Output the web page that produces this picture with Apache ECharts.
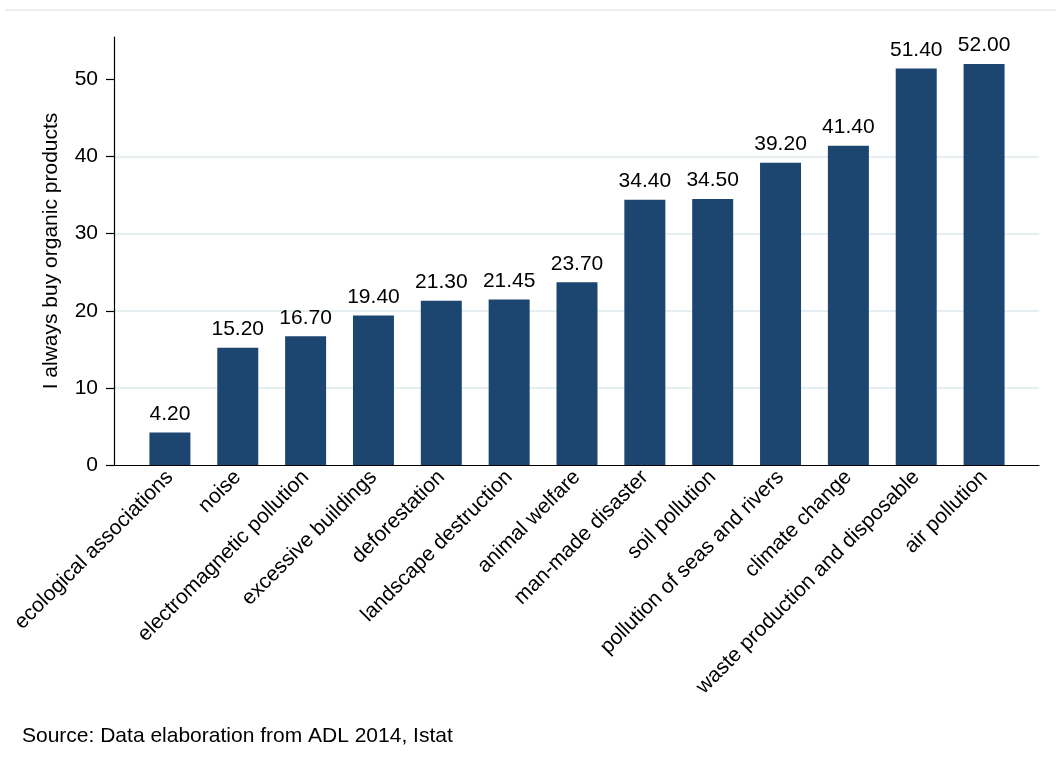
<!DOCTYPE html>
<html>
<head>
<meta charset="utf-8">
<script src="https://cdn.jsdelivr.net/npm/echarts@6/dist/echarts.min.js"></script>
<style>
html,body{margin:0;padding:0;background:#fff;}
#c{width:1056px;height:769px;}
</style>
</head>
<body>
<div id="c"></div>
<script>
const categories = ["ecological associations","noise","electromagnetic pollution","excessive buildings","deforestation","landscape destruction","animal welfare","man-made disaster","soil pollution","pollution of seas and rivers","climate change","waste production and disposable","air pollution"];
const values = [4.20,15.20,16.70,19.40,21.30,21.45,23.70,34.40,34.50,39.20,41.40,51.40,52.00];
const yTicks = [0,10,20,30,40,50];
const yName = "I always buy organic products";
const sourceText = "Source: Data elaboration from ADL 2014, Istat";

const FONT = '"Liberation Sans", Arial, sans-serif';
const FS = 21;
const YMAX = 55.5;

const chart = echarts.init(document.getElementById('c'), null, {renderer:'canvas'});
chart.setOption({
  animation:false,
  backgroundColor:'#ffffff',
  textStyle:{fontFamily:FONT},
  grid:[
    {left:114, right:17, top:37, bottom:304, containLabel:false},
    {left:136, right:38, top:37, bottom:304, containLabel:false}
  ],
  xAxis:[
    {gridIndex:0, type:'value', min:0, max:1, axisLine:{show:true, onZero:false, lineStyle:{color:'#000', width:1.2}},
     axisTick:{show:false}, axisLabel:{show:false}, splitLine:{show:false}},
    {gridIndex:1, type:'category', data:categories, axisLine:{show:false}, axisTick:{show:false},
     axisLabel:{interval:0, rotate:45, margin:9, color:'#000', fontSize:FS, fontFamily:FONT}, splitLine:{show:false}}
  ],
  yAxis:[
    {gridIndex:0, type:'value', min:0, max:YMAX, interval:10,
     name:yName, nameLocation:'middle', nameGap:52, nameTextStyle:{color:'#000', fontSize:FS, fontFamily:FONT},
     axisLine:{show:true, onZero:false, lineStyle:{color:'#000', width:1.2}},
     axisTick:{show:true, length:8, customValues:yTicks, lineStyle:{color:'#000', width:1.2}},
     axisLabel:{customValues:yTicks, margin:16, color:'#000', fontSize:FS, fontFamily:FONT},
     splitLine:{show:true, showMinLine:false, showMaxLine:false, lineStyle:{color:'#e5eef1', width:2}}},
    {gridIndex:1, type:'value', min:0, max:YMAX, show:false}
  ],
  series:[{
    type:'bar', xAxisIndex:1, yAxisIndex:1, data:values, barWidth:41,
    itemStyle:{color:'#1c4670'},
    label:{show:true, position:'top', distance:8, color:'#000', fontSize:FS, fontFamily:FONT,
      formatter:p=>p.value.toFixed(2)}
  }],
  graphic:[
    {type:'line', shape:{x1:5, y1:10, x2:1056, y2:10}, style:{stroke:'#e6eaea', lineWidth:1.5}, silent:true},
    {type:'text', left:22, top:726, style:{text:sourceText, fill:'#000', fontSize:FS, fontFamily:FONT}}
  ]
});
</script>
</body>
</html>
